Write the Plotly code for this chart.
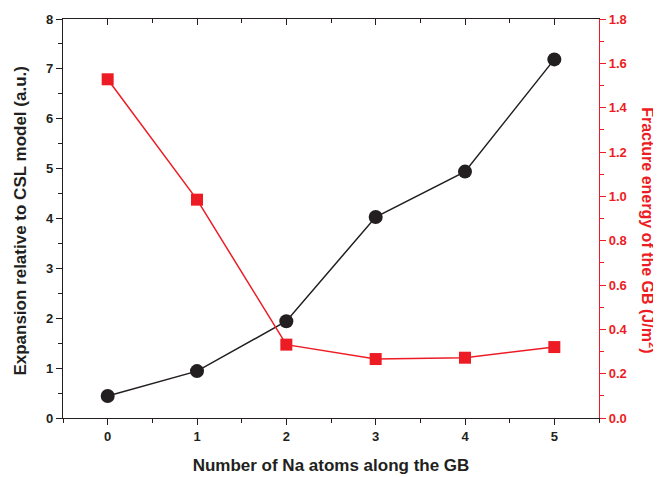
import plotly.graph_objects as go

na_atoms = [0, 1, 2, 3, 4, 5]
expansion = [0.44, 0.94, 1.94, 4.03, 4.94, 7.19]
fracture_energy = [1.528, 0.985, 0.331, 0.266, 0.272, 0.320]

BLACK = "#231F20"
RED = "#ED1C24"
FONT = "Liberation Sans, Arial, sans-serif"

fig = go.Figure()
fig.add_trace(go.Scatter(
    x=na_atoms, y=expansion, mode="lines+markers",
    line=dict(color=BLACK, width=1.5),
    marker=dict(symbol="circle", size=14, color=BLACK),
    showlegend=False, cliponaxis=False))
fig.add_trace(go.Scatter(
    x=na_atoms, y=fracture_energy, mode="lines+markers", yaxis="y2",
    line=dict(color=RED, width=1.5),
    marker=dict(symbol="square", size=12, color=RED),
    showlegend=False, cliponaxis=False))
# invisible trace to activate the top (mirror) axis
fig.add_trace(go.Scatter(x=[0], y=[0], xaxis="x2", yaxis="y", mode="markers",
                         marker=dict(opacity=0), showlegend=False, hoverinfo="skip"))

tickfont = dict(family=FONT, size=13, color=BLACK, weight="bold")

fig.update_layout(
    width=653, height=469,
    margin=dict(l=55, r=62, t=11, b=59),
    paper_bgcolor="white", plot_bgcolor="white",
    font=dict(family=FONT),
    xaxis=dict(
        range=[-0.5, 5.5], tickmode="array", tickvals=na_atoms,
        ticks="outside", ticklen=6, tickwidth=1.3, tickcolor=BLACK,
        showline=True, linecolor=BLACK, linewidth=1.3,
        showgrid=False, zeroline=False, tickfont=tickfont,
        minor=dict(tickvals=[-0.5, 0.5, 1.5, 2.5, 3.5, 4.5, 5.5], ticks="outside",
                   ticklen=4, tickcolor=BLACK, tickwidth=1.3),
        title=dict(text="Number of Na atoms along the GB", standoff=16,
                   font=dict(family=FONT, size=17, color=BLACK, weight="bold")),
        automargin=False,
    ),
    xaxis2=dict(
        overlaying="x", side="top", range=[-0.5, 5.5],
        tickmode="array", tickvals=na_atoms, ticks="inside", ticklen=6,
        tickwidth=1.3, tickcolor=BLACK, showticklabels=False,
        showline=True, linecolor=BLACK, linewidth=1.3, showgrid=False, zeroline=False,
        minor=dict(tickvals=[0.5, 1.5, 2.5, 3.5, 4.5], ticks="inside",
                   ticklen=4, tickcolor=BLACK, tickwidth=1.3),
        automargin=False,
    ),
    yaxis=dict(
        range=[0, 8], dtick=1, ticks="outside", ticklen=6, tickwidth=1.3,
        tickcolor=BLACK, showline=True, linecolor=BLACK, linewidth=1.3,
        showgrid=False, zeroline=False, tickfont=tickfont,
        minor=dict(dtick=0.5, ticks="outside", ticklen=4, tickcolor=BLACK, tickwidth=1.3),
        automargin=False,
    ),
    yaxis2=dict(
        overlaying="y", side="right", range=[0, 1.8], dtick=0.2, tickformat=".1f",
        ticks="outside", ticklen=6, tickwidth=1.3, tickcolor=RED,
        showline=True, linecolor=RED, linewidth=1.3,
        showgrid=False, zeroline=False,
        tickfont=dict(family=FONT, size=13, color=RED, weight="bold"),
        minor=dict(dtick=0.1, ticks="outside", ticklen=4, tickcolor=RED, tickwidth=1.3),
        automargin=False,
    ),
    annotations=[
        dict(text="Expansion relative to CSL model (a.u.)", xref="paper", yref="paper",
             x=-0.080, y=0.495, xanchor="center", yanchor="middle", showarrow=False,
             textangle=-90, font=dict(family=FONT, size=17, color=BLACK, weight="bold")),
        dict(text="Fracture energy of the GB (J/m<sup>2</sup>)", xref="paper", yref="paper",
             x=1.093, y=0.471, xanchor="center", yanchor="middle", showarrow=False,
             textangle=90, font=dict(family=FONT, size=16, color=RED, weight="bold")),
    ],
)

fig.write_html("out.html")
